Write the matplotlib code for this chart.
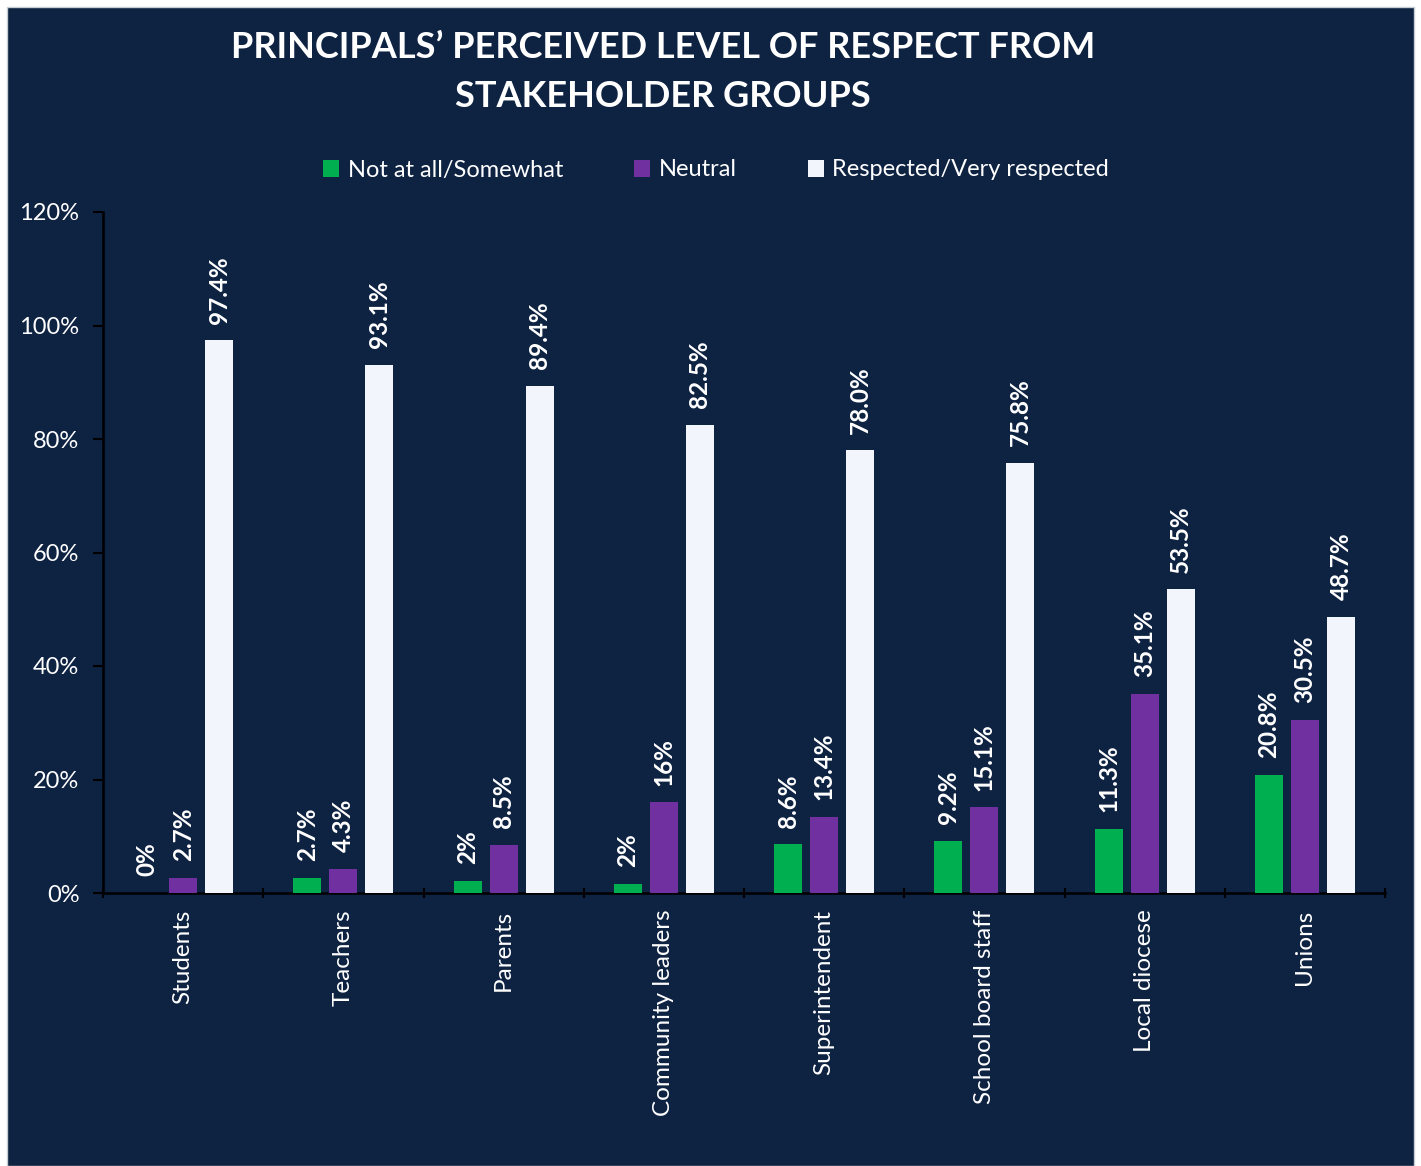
import matplotlib
matplotlib.use("Agg")
import matplotlib.pyplot as plt
import matplotlib.patches as mpatches
from matplotlib.ticker import FixedLocator, FuncFormatter
import numpy as np

plt.rcParams["font.family"] = ["Lato", "DejaVu Sans"]

NAVY   = "#0E2242"
GREEN  = "#00B050"
PURPLE = "#7030A0"
WHITE  = "#F2F6FC"

categories = ["Students", "Teachers", "Parents", "Community leaders",
              "Superintendent", "School board staff", "Local diocese", "Unions"]
series_names = ["Not at all/Somewhat", "Neutral", "Respected/Very respected"]

not_at_all = [0.0, 2.7, 2.1, 1.6, 8.6, 9.2, 11.3, 20.8]
neutral    = [2.7, 4.3, 8.5, 16.0, 13.4, 15.1, 35.1, 30.5]
respected  = [97.4, 93.1, 89.4, 82.5, 78.0, 75.8, 53.5, 48.7]

not_at_all_lbl = ["0%", "2.7%", "2%", "2%", "8.6%", "9.2%", "11.3%", "20.8%"]
neutral_lbl    = ["2.7%", "4.3%", "8.5%", "16%", "13.4%", "15.1%", "35.1%", "30.5%"]
respected_lbl  = ["97.4%", "93.1%", "89.4%", "82.5%", "78.0%", "75.8%", "53.5%", "48.7%"]

fig = plt.figure(figsize=(14.21, 11.66), dpi=100, facecolor="white")
# navy panel (the chart area of the original slide)
fig.patches.append(mpatches.Rectangle((7 / 1421, 0), 1407 / 1421, 1 - 7 / 1166,
                                      transform=fig.transFigure, facecolor=NAVY,
                                      edgecolor="#C8CCD4", linewidth=1.0, zorder=-10))

ax = fig.add_axes([103 / 1421, 273 / 1166, 1282 / 1421, 681 / 1166])
ax.set_facecolor(NAVY)

x = np.arange(len(categories))
w = 0.175
step = 0.225
series = [(not_at_all, not_at_all_lbl, GREEN),
          (neutral, neutral_lbl, PURPLE),
          (respected, respected_lbl, WHITE)]

handles = []
for k, (vals, lbls, col) in enumerate(series):
    xs = x + (k - 1) * step
    vals_f = np.array(vals) / 100
    b = ax.bar(xs, vals_f, width=w, color=col, zorder=3, label=series_names[k])
    handles.append(b)
    for xi, v, t in zip(xs, vals_f, lbls):
        ax.annotate(t, (xi, v), xytext=(0, 12), textcoords="offset points",
                    rotation=90, ha="center", va="bottom", color="white",
                    fontsize=17.5, fontweight="bold")

ax.set_xlim(-0.5, len(categories) - 0.5)
ax.set_ylim(0, 1.2)
ax.set_yticks(np.arange(0, 1.21, 0.2))
ax.yaxis.set_major_formatter(FuncFormatter(lambda v, _: f"{v * 100:.0f}%"))

ax.set_xticks(x)
ax.set_xticklabels(categories, rotation=90, color="white", fontsize=17.5)
ax.xaxis.set_minor_locator(FixedLocator(np.arange(-0.5, len(categories), 1.0)))
ax.tick_params(axis="x", which="major", length=0, pad=12)
ax.tick_params(axis="x", which="minor", length=7, width=1.5, color="black", direction="inout")
ax.tick_params(axis="y", length=7, width=1.5, color="black", direction="out",
               labelcolor="white", labelsize=17, pad=10)

for s in ["top", "right"]:
    ax.spines[s].set_visible(False)
for s in ["left", "bottom"]:
    ax.spines[s].set_color("black")
    ax.spines[s].set_linewidth(1.8)

fig.text(663 / 1421, 1 - 72 / 1166,
         "PRINCIPALS\u2019 PERCEIVED LEVEL OF RESPECT FROM\nSTAKEHOLDER GROUPS",
         ha="center", va="center", color="white", fontsize=26, fontweight="bold",
         linespacing=1.6)

leg = fig.legend(handles=handles, loc="center", bbox_to_anchor=(716 / 1421, 1 - 170 / 1166),
                 ncol=3, frameon=False, fontsize=17, labelcolor="white",
                 handlelength=0.7, handleheight=0.7, handletextpad=0.35,
                 columnspacing=3.0)

fig.savefig("out.png", dpi=100, facecolor=fig.get_facecolor())
